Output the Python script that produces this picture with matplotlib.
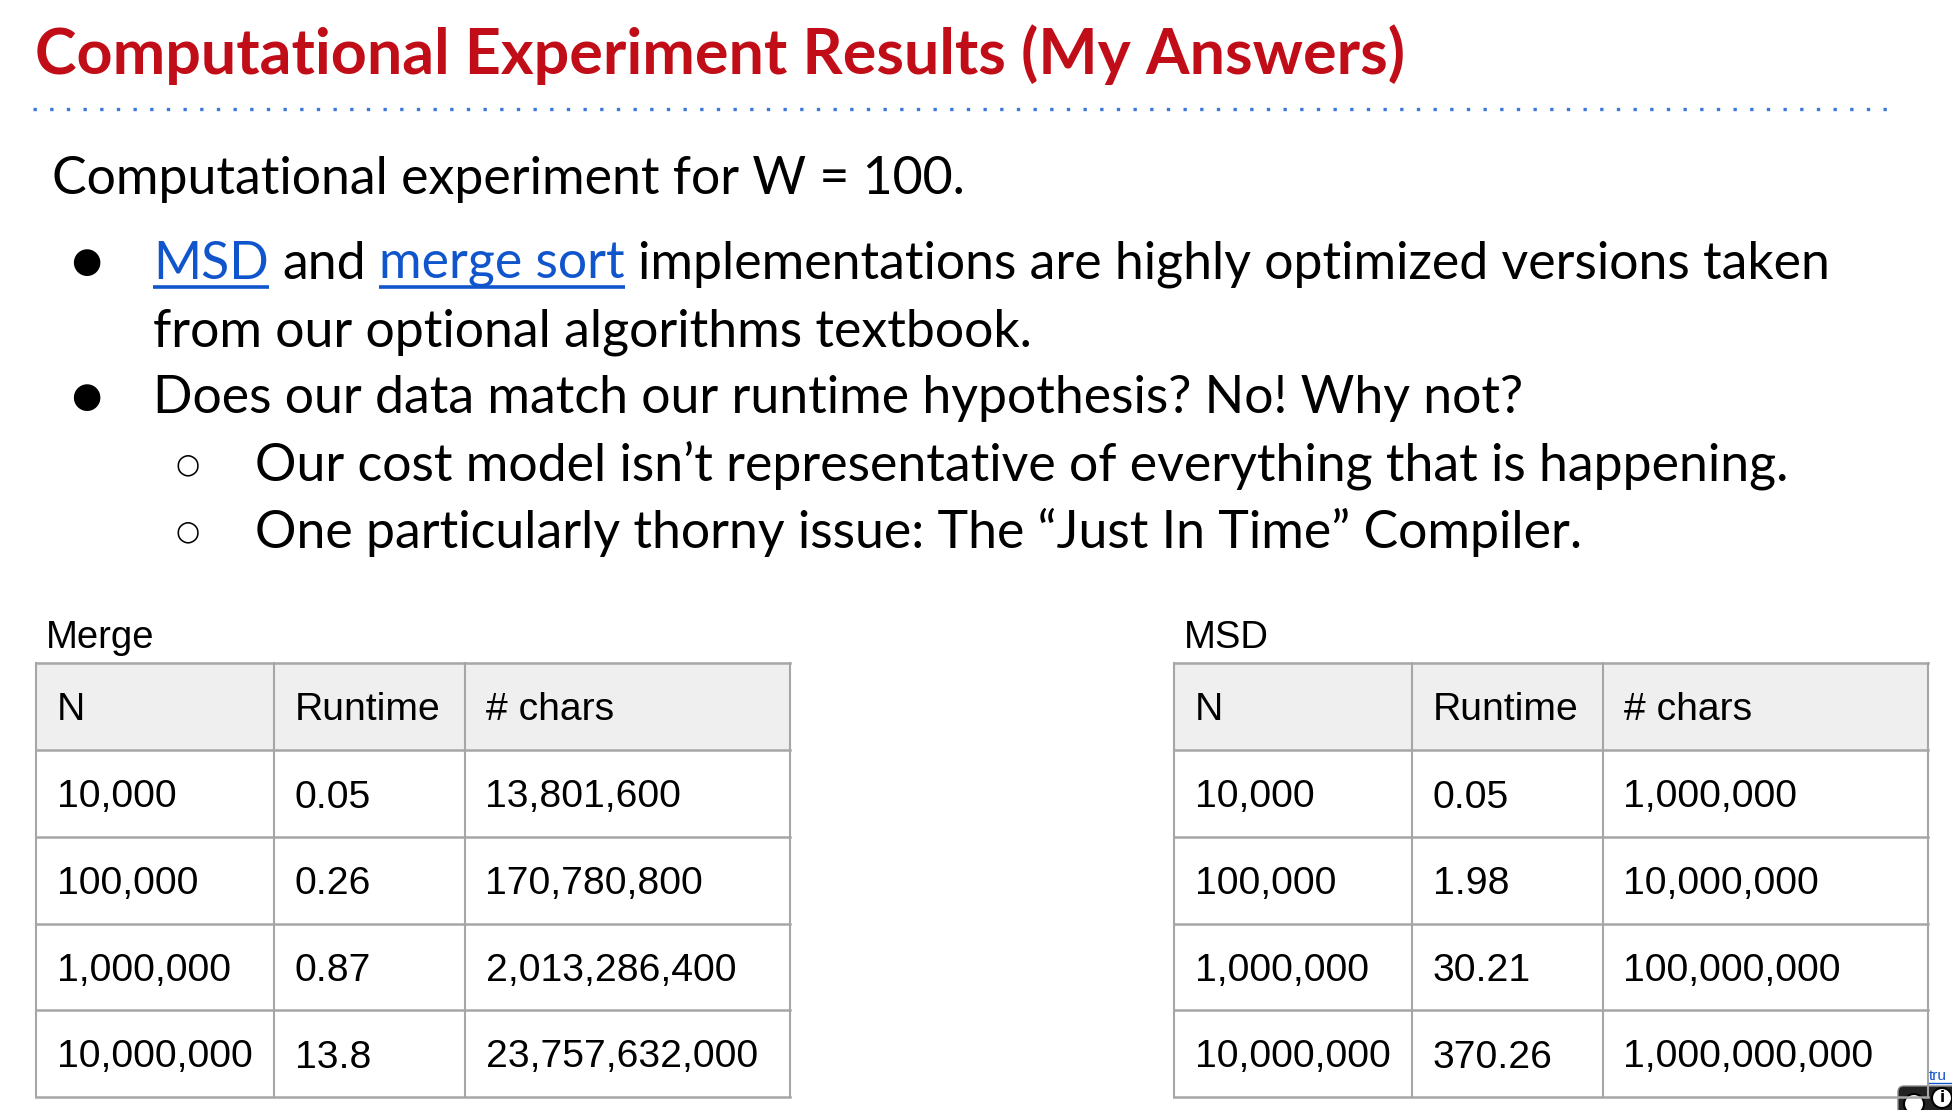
import matplotlib
matplotlib.use("Agg")
import matplotlib.pyplot as plt
from matplotlib.patches import Rectangle, Circle, FancyBboxPatch

# ---- slide text ----
TITLE = "Computational Experiment Results (My Answers)"
INTRO = "Computational experiment for W = 100."
LINE1 = [("MSD", "link"), ("and", "text"), ("merge sort", "link"),
         ("implementations are highly optimized versions taken", "text")]
LINE2 = "from our optional algorithms textbook."
LINE3 = "Does our data match our runtime hypothesis? No! Why not?"
SUB1 = "Our cost model isn\u2019t representative of everything that is happening."
SUB2 = "One particularly thorny issue: The \u201cJust In Time\u201d Compiler."

# ---- table data ----
COLS = ["N", "Runtime", "# chars"]
N_VALUES = ["10,000", "100,000", "1,000,000", "10,000,000"]
MERGE_RUNTIME = ["0.05", "0.26", "0.87", "13.8"]
MERGE_CHARS = ["13,801,600", "170,780,800", "2,013,286,400", "23,757,632,000"]
MSD_RUNTIME = ["0.05", "1.98", "30.21", "370.26"]
MSD_CHARS = ["1,000,000", "10,000,000", "100,000,000", "1,000,000,000"]

RED = "#c00d17"
BLUE = "#1155cc"
DOTS = "#3c78d8"
GRID = "#a6a6a6"
HEAD = "#efefef"
BODY_FONT = ["Lato", "DejaVu Sans"]
TABLE_FONT = ["Liberation Sans", "DejaVu Sans"]

W, H = 1952, 1110
fig = plt.figure(figsize=(W / 100, H / 100), dpi=100)
ax = fig.add_axes([0, 0, 1, 1])
ax.set_xlim(0, W)
ax.set_ylim(H, 0)
ax.axis("off")
R = fig.canvas.get_renderer()


def width(s, size, **kw):
    t = ax.text(0, 0, s, fontsize=size, **kw)
    w = t.get_window_extent(R).width
    t.remove()
    return w


def fit_size(s, target, **kw):
    return 40 * target / width(s, 40, **kw)


# title
ts = fit_size(TITLE, 1370, family=BODY_FONT, fontweight="bold")
ax.text(35, 74, TITLE, fontsize=ts, family=BODY_FONT, fontweight="bold",
        color=RED, va="baseline", ha="left")

# dotted rule
ax.plot([33, 1890], [109, 109], color=DOTS, lw=2.4,
        ls=(0, (1, 4.0)), solid_capstyle="butt")

# body text
full1 = " ".join(s for s, _ in LINE1)
bs = fit_size(full1, 1678, family=BODY_FONT)
ax.text(52, 194, INTRO, fontsize=bs, family=BODY_FONT, va="baseline")

x0 = 153
prefix = ""
for seg, kind in LINE1:
    prefix = (prefix + " " + seg).strip()
    start = x0 + width(prefix, bs, family=BODY_FONT) - width(seg, bs, family=BODY_FONT)
    col = BLUE if kind == "link" else "black"
    ax.text(start, 279, seg, fontsize=bs, family=BODY_FONT, color=col, va="baseline")
    if kind == "link":
        ax.plot([start, start + width(seg, bs, family=BODY_FONT)], [287, 287],
                color=BLUE, lw=2.6, solid_capstyle="butt")

ax.text(153, 346, LINE2, fontsize=bs, family=BODY_FONT, va="baseline")
ax.text(153, 413, LINE3, fontsize=bs, family=BODY_FONT, va="baseline")
ax.text(255, 481, SUB1, fontsize=bs, family=BODY_FONT, va="baseline")
ax.text(255, 548, SUB2, fontsize=bs, family=BODY_FONT, va="baseline")

for y in (262, 397):
    ax.text(86, y, "\u25cf", fontsize=25, family=["DejaVu Sans"],
            ha="center", va="center")
for y in (464, 531):
    ax.text(188, y, "\u25cb", fontsize=20, family=["DejaVu Sans"],
            ha="center", va="center")


# tables
def draw_table(left, label, runtime, chars):
    xs = [left, left + 238, left + 428.5, left + 753.5]
    ys = [663, 750, 837, 923.7, 1010, 1097]
    ax.text(left + 10, 648, label, fontsize=27.5, family=TABLE_FONT, va="baseline")
    ax.add_patch(Rectangle((xs[0], ys[0]), xs[-1] - xs[0], ys[1] - ys[0],
                           facecolor=HEAD, edgecolor="none", zorder=0))
    rows = [COLS] + [list(r) for r in zip(N_VALUES, runtime, chars)]
    for i, row in enumerate(rows):
        yc = (ys[i] + ys[i + 1]) / 2 + 4
        for j, val in enumerate(row):
            ax.text(xs[j] + 21, yc, val, fontsize=28.2, family=TABLE_FONT,
                    va="center", ha="left")
    for y in ys:
        ax.plot([xs[0], xs[-1]], [y, y], color=GRID, lw=1.8, solid_capstyle="projecting")
    for x in xs:
        ax.plot([x, x], [ys[0], ys[-1]], color=GRID, lw=1.5, solid_capstyle="projecting")


draw_table(36, "Merge", MERGE_RUNTIME, MERGE_CHARS)
draw_table(1174, "MSD", MSD_RUNTIME, MSD_CHARS)

# licence badge fragment at the slide edge
ax.text(1929, 1080, "tru", fontsize=11, family=TABLE_FONT, color=BLUE, va="baseline")
ax.plot([1929, 1952], [1083, 1083], color=BLUE, lw=1)
ax.add_patch(FancyBboxPatch((1898, 1086), 80, 40, boxstyle="round,pad=0,rounding_size=6",
                            facecolor="#222222", edgecolor="#888888", lw=1))
ax.add_patch(Circle((1942, 1098), 10, facecolor="white", edgecolor="black", lw=1.5))
ax.text(1942, 1098, "i", fontsize=11, fontweight="bold", ha="center", va="center")
ax.add_patch(Circle((1914, 1104), 10, facecolor="white", edgecolor="black", lw=1.5))

fig.savefig("out.png", dpi=100)
